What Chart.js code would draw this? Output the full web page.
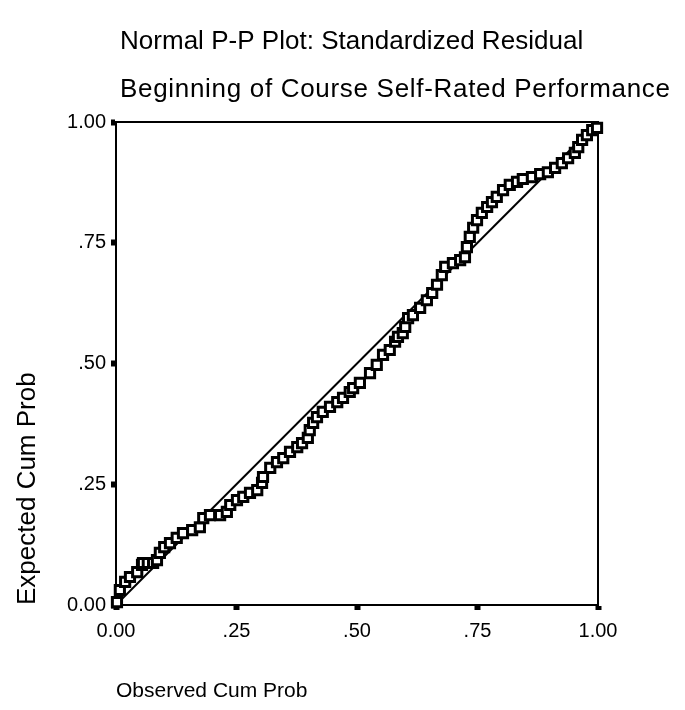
<!DOCTYPE html>
<html>
<head>
<meta charset="utf-8">
<script src="https://cdn.jsdelivr.net/npm/chart.js@4.4.0/dist/chart.umd.min.js"></script>
<style>
  html, body { margin: 0; padding: 0; background: #fff; }
</style>
</head>
<body>
<canvas id="ppChart" width="685" height="710"></canvas>
<script>
var titleLines = ['Normal P-P Plot: Standardized Residual', 'Beginning of Course Self-Rated Performance'];
var xLabel = 'Observed Cum Prob';
var yLabel = 'Expected Cum Prob';
var tickValues = [0, 0.25, 0.5, 0.75, 1];
var diagonal = [0, 1];

var observed = [
    0.002, 0.008, 0.019, 0.029, 0.044, 0.054, 0.056, 0.066, 0.077, 0.085,
    0.091, 0.100, 0.112, 0.126, 0.139, 0.158, 0.174, 0.181, 0.195, 0.216,
    0.230, 0.237, 0.251, 0.264, 0.278, 0.293, 0.303, 0.305, 0.320, 0.334,
    0.347, 0.361, 0.376, 0.386, 0.398, 0.402, 0.409, 0.417, 0.429, 0.444,
    0.459, 0.471, 0.485, 0.492, 0.506, 0.527, 0.541, 0.554, 0.568, 0.579,
    0.585, 0.595, 0.600, 0.606, 0.616, 0.631, 0.645, 0.656, 0.666, 0.676,
    0.683, 0.699, 0.714, 0.724, 0.728, 0.734, 0.741, 0.749, 0.759, 0.770,
    0.780, 0.790, 0.803, 0.817, 0.832, 0.844, 0.863, 0.880, 0.896, 0.911,
    0.925, 0.938, 0.952, 0.959, 0.967, 0.977, 0.988, 0.998
];
var expected = [
    0.006, 0.031, 0.048, 0.058, 0.068, 0.083, 0.087, 0.087, 0.087, 0.093,
    0.108, 0.120, 0.128, 0.139, 0.149, 0.155, 0.161, 0.180, 0.186, 0.186,
    0.193, 0.207, 0.217, 0.224, 0.232, 0.238, 0.253, 0.265, 0.284, 0.296,
    0.304, 0.317, 0.327, 0.335, 0.346, 0.362, 0.377, 0.389, 0.400, 0.410,
    0.420, 0.429, 0.441, 0.449, 0.460, 0.480, 0.497, 0.518, 0.528, 0.545,
    0.555, 0.563, 0.576, 0.594, 0.600, 0.615, 0.631, 0.646, 0.663, 0.683,
    0.700, 0.708, 0.714, 0.720, 0.741, 0.762, 0.781, 0.797, 0.812, 0.824,
    0.834, 0.845, 0.859, 0.870, 0.876, 0.882, 0.886, 0.892, 0.896, 0.905,
    0.915, 0.925, 0.936, 0.948, 0.963, 0.973, 0.983, 0.988
];

var fontFamily = "'Liberation Sans', Arial, Helvetica, sans-serif";

var points = [];
for (var i = 0; i < observed.length; i++) {
    points.push({ x: observed[i], y: expected[i] });
}

function tickText(v) {
    if (v === 0) return '0.00';
    if (v === 1) return '1.00';
    return v.toFixed(2).replace(/^0/, '');
}

// box around the plot area (top and right sides too)
var frame = {
    id: 'frame',
    beforeDatasetsDraw: function (chart) {
        var a = chart.chartArea;
        var ctx = chart.ctx;
        ctx.save();
        ctx.strokeStyle = '#000';
        ctx.lineWidth = 2;
        ctx.strokeRect(a.left, a.top, a.right - a.left, a.bottom - a.top);
        ctx.restore();
    }
};

// two title lines, left aligned, spaced out to their line widths
var titles = {
    id: 'titles',
    afterDraw: function (chart) {
        var ctx = chart.ctx;
        var widths = [463, 550];
        var ys = [42, 90];
        ctx.save();
        ctx.fillStyle = '#000';
        ctx.font = '26px ' + fontFamily;
        ctx.textBaseline = 'middle';
        ctx.textAlign = 'left';
        for (var i = 0; i < titleLines.length; i++) {
            ctx.letterSpacing = '0px';
            var w = ctx.measureText(titleLines[i]).width;
            var sp = (widths[i] - w) / (titleLines[i].length - 1);
            ctx.letterSpacing = sp.toFixed(2) + 'px';
            ctx.fillText(titleLines[i], 120, ys[i]);
        }
        ctx.restore();
    }
};

var ctx = document.getElementById('ppChart').getContext('2d');
var ppChart = new Chart(ctx, {
    type: 'scatter',
    data: {
        datasets: [
            {
                label: 'Residual',
                data: points,
                pointStyle: 'rect',
                pointRadius: 6.5,
                pointHoverRadius: 6.5,
                pointBorderWidth: 3,
                borderColor: '#000',
                backgroundColor: '#fff',
                clip: false,
                order: 1
            },
            {
                type: 'line',
                label: 'Diagonal',
                data: diagonal.map(function (v) { return { x: v, y: v }; }),
                borderColor: '#000',
                borderWidth: 2,
                pointRadius: 0,
                fill: false,
                order: 2
            }
        ]
    },
    options: {
        responsive: false,
        animation: false,
        events: [],
        layout: { padding: { top: 122, right: 87, left: 0, bottom: 0 } },
        plugins: {
            legend: { display: false },
            tooltip: { enabled: false }
        },
        scales: {
            x: {
                type: 'linear',
                min: 0,
                max: 1,
                afterBuildTicks: function (axis) {
                    axis.ticks = tickValues.map(function (v) { return { value: v }; });
                },
                afterFit: function (scale) { scale.height = 105; },
                grid: {
                    drawOnChartArea: false,
                    drawTicks: true,
                    tickLength: 5,
                    tickWidth: 6,
                    tickColor: '#000'
                },
                border: { display: true, color: '#000', width: 2 },
                ticks: {
                    color: '#000',
                    padding: 9,
                    maxRotation: 0,
                    font: { family: fontFamily, size: 20 },
                    callback: function (v) { return tickText(v); }
                },
                title: {
                    display: true,
                    text: xLabel,
                    align: 'start',
                    color: '#000',
                    padding: { top: 0, bottom: 6 },
                    font: { family: fontFamily, size: 21 }
                }
            },
            y: {
                type: 'linear',
                min: 0,
                max: 1,
                afterBuildTicks: function (axis) {
                    axis.ticks = tickValues.map(function (v) { return { value: v }; });
                },
                afterFit: function (scale) { scale.width = 116; },
                grid: {
                    drawOnChartArea: false,
                    drawTicks: true,
                    tickLength: 5,
                    tickWidth: 6,
                    tickColor: '#000'
                },
                border: { display: true, color: '#000', width: 2 },
                ticks: {
                    color: '#000',
                    padding: 5,
                    font: { family: fontFamily, size: 20 },
                    callback: function (v) { return tickText(v); }
                },
                title: {
                    display: true,
                    text: yLabel,
                    align: 'start',
                    color: '#000',
                    padding: { top: 12, bottom: 0 },
                    font: { family: fontFamily, size: 26 }
                }
            }
        }
    },
    plugins: [frame, titles]
});
</script>
</body>
</html>
